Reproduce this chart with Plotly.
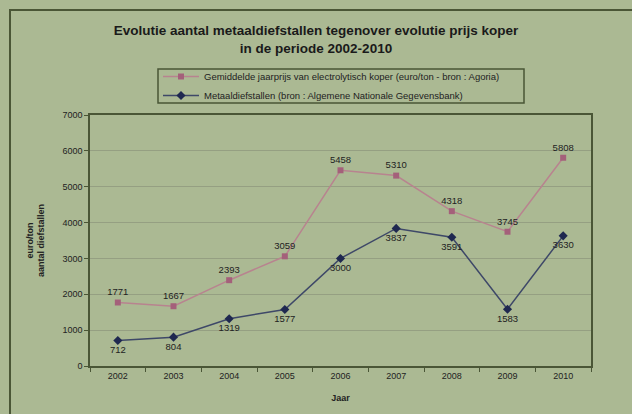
import plotly.graph_objects as go

years = ["2002", "2003", "2004", "2005", "2006", "2007", "2008", "2009", "2010"]
copper_price = [1771, 1667, 2393, 3059, 5458, 5310, 4318, 3745, 5808]
metal_thefts = [712, 804, 1319, 1577, 3000, 3837, 3591, 1583, 3630]
y_ticks = [0, 1000, 2000, 3000, 4000, 5000, 6000, 7000]

copper_name = "Gemiddelde jaarprijs van electrolytisch koper (euro/ton - bron : Agoria)"
theft_name = "Metaaldiefstallen (bron : Algemene Nationale Gegevensbank)"

BG = "#abb993"
DARK = "#4a5636"
FONT = "Liberation Sans, Arial, sans-serif"

fig = go.Figure()
fig.add_trace(go.Scatter(
    x=years, y=copper_price, name=copper_name, mode="lines+markers+text",
    line=dict(color="#b8838f", width=1.5),
    marker=dict(symbol="square", size=6, color="#a4607a"),
    text=[str(v) for v in copper_price], textposition="top center",
    textfont=dict(size=9.5, color="#222222", family=FONT),
))
fig.add_trace(go.Scatter(
    x=years, y=metal_thefts, name=theft_name, mode="lines+markers+text",
    line=dict(color="#3e4868", width=1.5),
    marker=dict(symbol="diamond", size=7, color="#1f2850"),
    text=[str(v) for v in metal_thefts], textposition="bottom center",
    textfont=dict(size=9.5, color="#222222", family=FONT),
))

L, R, T, B = 90, 41, 115, 48
W, H = 632, 414
pw, ph = W - L - R, H - T - B

def px_x(x):
    return (x - L) / pw

def px_y(y):
    return (H - B - y) / ph

fig.update_layout(
    width=W, height=H,
    margin=dict(l=L, r=R, t=T, b=B),
    paper_bgcolor=BG, plot_bgcolor=BG,
    font=dict(family=FONT, color="#222222", size=9),
    title=dict(
        text="<b>Evolutie aantal metaaldiefstallen tegenover evolutie prijs koper<br>in de periode 2002-2010</b>",
        x=0.5, xanchor="center", y=1 - 35 / H, yanchor="top",
        font=dict(size=13.5, family=FONT, color="#1a1a1a"),
    ),
    showlegend=True,
    legend=dict(
        x=px_x(158), xanchor="left", y=px_y(62), yanchor="top",
        bgcolor="rgba(0,0,0,0)", borderwidth=0,
        font=dict(size=9.5, family=FONT, color="#222222"),
        tracegroupgap=0, itemwidth=36,
    ),
    xaxis=dict(
        type="category", range=[-0.5, 8.5],
        showline=True, linecolor=DARK, linewidth=1.5, mirror=True,
        ticks="outside", tickson="boundaries", ticklen=4, tickcolor=DARK,
        showgrid=False, tickfont=dict(size=9, color="#222222"),
        title=dict(text="<b>Jaar</b>", font=dict(size=9), standoff=15),
    ),
    yaxis=dict(
        range=[0, 7000], tickvals=y_ticks,
        showline=True, linecolor=DARK, linewidth=1.5, mirror=True,
        ticks="outside", ticklen=4, tickcolor=DARK,
        showgrid=True, gridcolor="#959f82", gridwidth=1,
        zeroline=False, tickfont=dict(size=9, color="#222222"),
        title=dict(text="<b>euro/ton<br>aantal diefstallen</b>", font=dict(size=9), standoff=16),
    ),
)

# legend frame
fig.add_shape(
    type="rect", xref="paper", yref="paper",
    x0=px_x(158), x1=px_x(524), y0=px_y(103), y1=px_y(69),
    line=dict(color=DARK, width=1.5), fillcolor="rgba(0,0,0,0)", layer="below",
)

# outer chart-area frame (extends beyond the visible window on right/bottom)
fig.add_shape(
    type="rect", xref="paper", yref="paper",
    x0=px_x(10), x1=px_x(W + 20),
    y0=px_y(H + 20), y1=px_y(10),
    line=dict(color=DARK, width=2), fillcolor="rgba(0,0,0,0)", layer="below",
)

fig.write_html(
    "out.html",
    config={"displayModeBar": False},
    post_script="document.body.style.margin='0';document.body.style.background='" + BG + "';",
)
